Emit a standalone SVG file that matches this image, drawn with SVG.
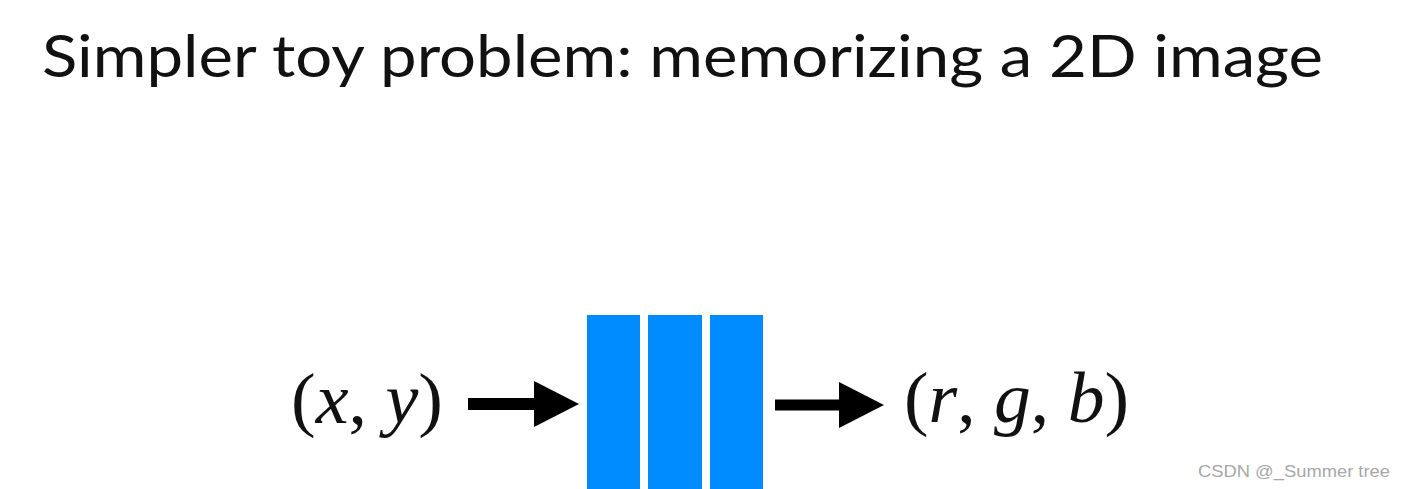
<svg xmlns="http://www.w3.org/2000/svg" width="1406" height="489" viewBox="0 0 1406 489">
<style>
.title{font-family:Lato,"Noto Sans",sans-serif;font-size:59px;fill:#111}
.math{font-family:"Liberation Serif",serif;font-style:italic;font-size:72px;fill:#111}
.up{font-style:normal}
.layer{fill:#008cff}
.wm{font-family:"Liberation Sans",sans-serif;font-size:17px;fill:#a8a8a8}
</style>
<defs>
<marker id="ah" markerWidth="45" markerHeight="46" refX="0" refY="23" markerUnits="userSpaceOnUse" orient="auto">
<path d="M0,0 L45,23 L0,46 Z" fill="#000"/>
</marker>
</defs>
<rect width="1406" height="489" fill="#fff"/>
<text class="title" x="42" y="77" textLength="1281" lengthAdjust="spacingAndGlyphs">Simpler toy problem: memorizing a 2D image</text>
<g id="input"><text class="math" x="291" y="423" textLength="152" lengthAdjust="spacingAndGlyphs"><tspan class="up">(</tspan>x<tspan class="up">, </tspan>y<tspan class="up">)</tspan></text></g>
<g id="network">
<rect class="layer" x="587" y="315" width="53" height="174"/>
<rect class="layer" x="648" y="315" width="54" height="174"/>
<rect class="layer" x="710" y="315" width="53" height="174"/>
</g>
<g id="output"><text class="math" x="904" y="422" textLength="225" lengthAdjust="spacingAndGlyphs"><tspan class="up">(</tspan>r<tspan class="up">, </tspan>g<tspan class="up">, </tspan>b<tspan class="up">)</tspan></text></g>
<g id="connectors">
<line x1="468" y1="404" x2="534" y2="404" stroke="#000" stroke-width="12" marker-end="url(#ah)"/>
<line x1="775" y1="405" x2="839" y2="405" stroke="#000" stroke-width="11" marker-end="url(#ah)"/>
</g>
<text class="wm" x="1198" y="477" textLength="192" lengthAdjust="spacingAndGlyphs">CSDN @_Summer tree</text>
</svg>
